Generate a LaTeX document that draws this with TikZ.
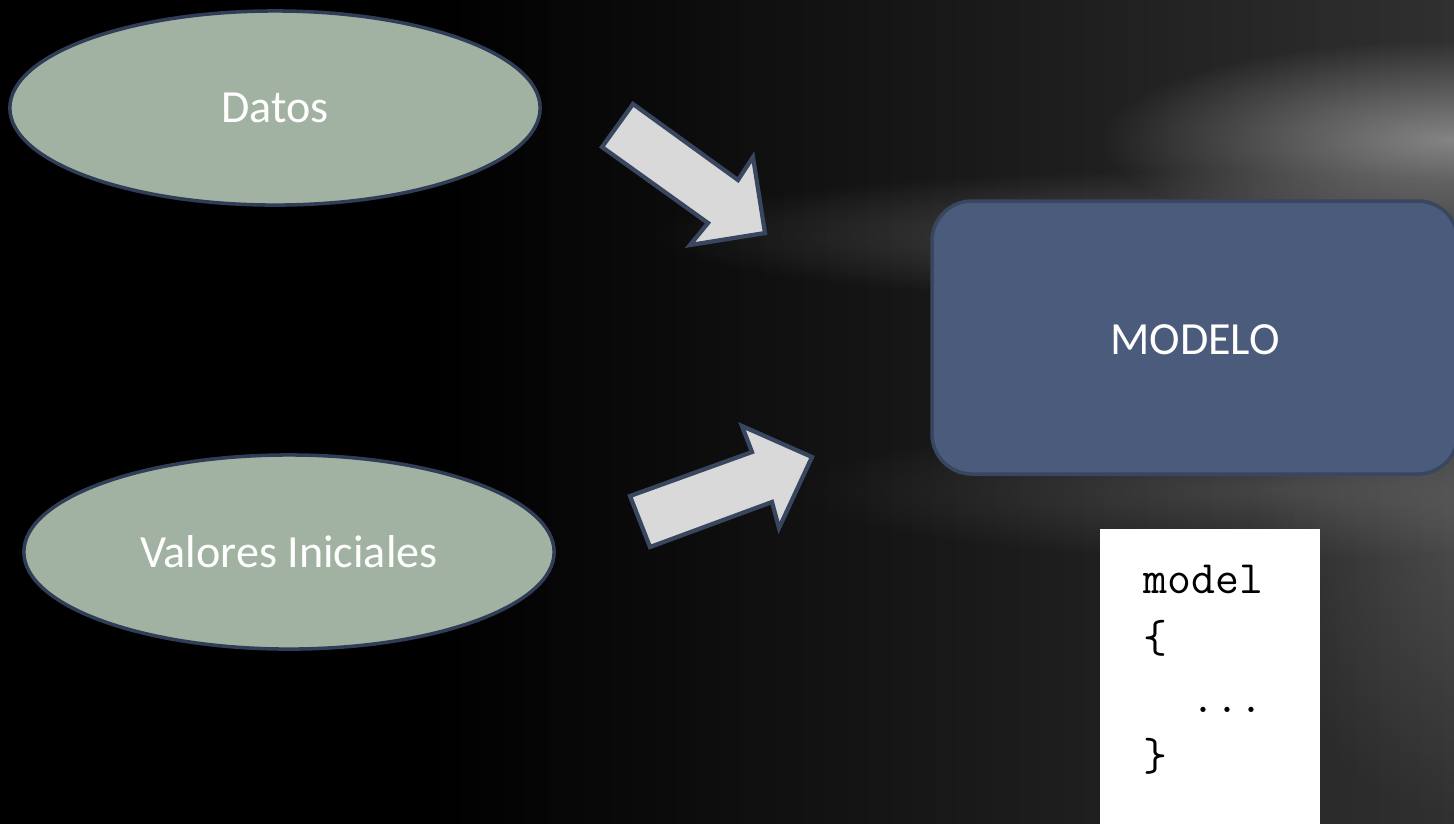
\documentclass[tikz,border=0pt]{standalone}
\usepackage{fontspec}
\setmainfont{Carlito}
\usetikzlibrary{shapes.geometric,fadings}
\definecolor{ellfill}{HTML}{A2B2A2}
\definecolor{navyline}{HTML}{2F3D56}
\definecolor{boxfill}{HTML}{4A5B7B}
\definecolor{boxline}{HTML}{384660}
\definecolor{arrfill}{HTML}{D9D9D9}
\definecolor{glow}{HTML}{A0A0A0}
\pgfdeclarehorizontalshading{bgshade}{100bp}{
  color(0bp)=(black); color(40bp)=(black);
  color(62bp)=(black!88!white); color(80bp)=(black!78!white);
  color(100bp)=(black!64!white)}
\tikzfading[name=softglow, inner color=transparent!0, outer color=transparent!100]
\tikzset{
  ellnode/.style={ellipse, draw=navyline, line width=1pt, fill=ellfill, minimum width=5.3cm, minimum height=1.94cm, inner sep=0pt, text=white, font=\fontsize{13.1pt}{15pt}\selectfont},
  modelbox/.style={draw=boxline, line width=1pt, fill=boxfill, rounded corners=0.4cm},
  boxlabel/.style={text=white, font=\fontsize{13.1pt}{15pt}\selectfont},
  blockarrow/.style={draw=boxline, line width=1.2pt, fill=arrfill, line join=miter},
  codeline/.style={anchor=base west, inner sep=0pt, font=\fontfamily{lmtt}\fontsize{13.2pt}{15pt}\selectfont, text=black},
  glowspot/.style={fill=glow, path fading=softglow}
}
\begin{document}
\begin{tikzpicture}[x=0.01cm,y=-0.01cm]
\useasboundingbox (0,0) rectangle (1454,823);
\begin{scope}
\clip (0,0) rectangle (1454,823);
% background
\shade[shading=bgshade] (-20,-20) rectangle (1474,843);
\fill[glowspot, opacity=0.75] (1100,40) rectangle (1800,240);
\fill[glowspot, opacity=0.35] (650,170) rectangle (1750,300);
\fill[glowspot, opacity=0.25] (800,420) rectangle (1750,560);
\fill[glowspot, opacity=0.25] (1250,250) rectangle (1700,823);
\end{scope}
% nodes
\node[ellnode] (datos) at (275,108) {Datos};
\node[ellnode] (valores) at (289,552) {Valores Iniciales};
\draw[modelbox] (932,201) rectangle (1458,474);
\node[boxlabel] (modelo) at (1195,340) {MODELO};
% code panel
\fill[white] (1100,529) rectangle (1320,830);
\node[codeline] (c1) at (1143,593) {model};
\node[codeline] (c2) at (1143,652) {\{};
\node[codeline] (c3) at (1143,712) {\ \ ...};
\node[codeline] (c4) at (1143,770) {\}};
% block arrows
\draw[blockarrow] (633,104) -- (738,180) -- (753,157) -- (765,233) -- (690,245) -- (708,223) -- (602,147) -- cycle;
\draw[blockarrow] (630,496) -- (752,452) -- (742,426) -- (812,457) -- (779,528) -- (772,502) -- (650,547) -- cycle;
\end{tikzpicture}
\end{document}
